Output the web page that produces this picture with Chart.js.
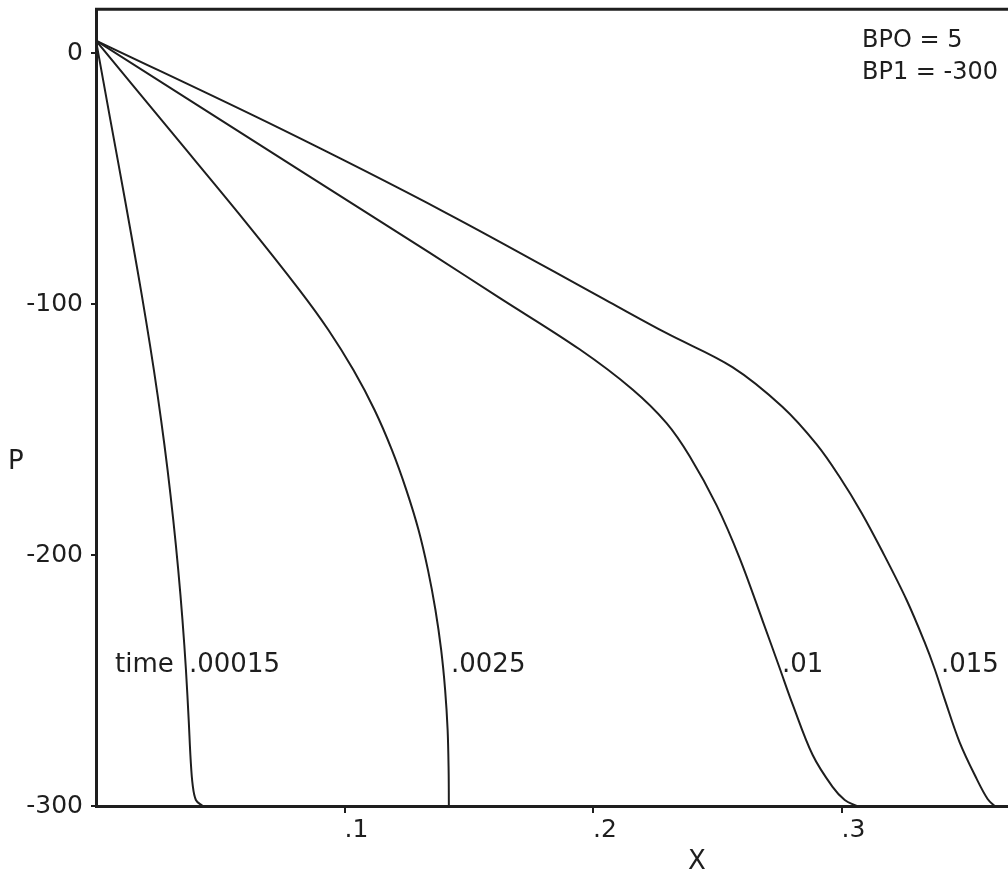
<!DOCTYPE html>
<html>
<head>
<meta charset="utf-8">
<script src="https://cdn.jsdelivr.net/npm/chart.js@4"></script>
<style>
  html, body { margin: 0; padding: 0; background: #fff; }
  canvas { display: block; }
</style>
</head>
<body>
<canvas id="chart" width="1008" height="876"></canvas>
<script>
// pressure profiles P(x) at four times, boundary values BPO = 5, BP1 = -300
const times = [".00015", ".0025", ".01", ".015"];

const x1 = [0, 0.0058, 0.0117, 0.0167, 0.0201, 0.0233, 0.0262, 0.0288, 0.0311, 0.0331, 0.0348, 0.0362, 0.0373, 0.0381, 0.0389, 0.0402, 0.0429];
const p1 = [5, -26.7, -58.6, -86.5, -106.4, -126.3, -146.2, -166.1, -186.1, -206, -225.9, -245.8, -265.7, -281.7, -291.6, -297.6, -300];

const x2 = [0, 0.03, 0.06, 0.0819, 0.0936, 0.1036, 0.1121, 0.1191, 0.1249, 0.1298, 0.1336, 0.1366, 0.1389, 0.1405, 0.1415, 0.1419, 0.142];
const p2 = [5, -31, -67, -94.4, -110.4, -126.3, -142.2, -158.2, -174.1, -190, -206, -221.9, -237.8, -253.8, -269.7, -285.7, -300];

const x3 = [0, 0.0819, 0.1342, 0.1624, 0.1946, 0.2159, 0.2296, 0.2389, 0.2497, 0.259, 0.2683, 0.2751, 0.2803, 0.2884, 0.2964, 0.3013, 0.3061];
const p3 = [5, -46.6, -79.5, -97.5, -118, -134, -147.4, -160.6, -180.1, -201.2, -226.3, -245, -259.4, -279.7, -292.4, -297.6, -300];

const x4 = [0, 0.0738, 0.141, 0.2066, 0.2296, 0.2561, 0.2763, 0.29, 0.2992, 0.3081, 0.3165, 0.3262, 0.3334, 0.3375, 0.3415, 0.3475, 0.3544, 0.3588, 0.3616];
const p4 = [5, -29.9, -63.7, -99.2, -111.6, -125.1, -141, -155.9, -168.8, -183.2, -198.7, -217.9, -234.6, -245.4, -257.4, -274.5, -289.2, -297.2, -300];

const yTicks = [0, -100, -200, -300];
const xTicks = [0.1, 0.2, 0.3];

const FONT = "'DejaVu Sans', sans-serif";
const INK = "#1e1e1e";

function toPoints(xs, ps) {
    return xs.map((x, i) => ({ x: x, y: ps[i] }));
}

const series = [[x1, p1], [x2, p2], [x3, p3], [x4, p4]];

// top frame line plus the free-standing texts
const annotations = {
    id: "annotations",
    afterDraw(chart) {
        const ctx = chart.ctx;
        const area = chart.chartArea;
        ctx.save();
        ctx.strokeStyle = INK;
        ctx.lineWidth = 3;
        ctx.beginPath();
        ctx.moveTo(area.left - 1, area.top);
        ctx.lineTo(area.right, area.top);
        ctx.stroke();

        ctx.fillStyle = INK;
        ctx.textBaseline = "middle";
        ctx.textAlign = "left";
        ctx.font = "26px " + FONT;
        ctx.fillText("time", 115, 665);
        const labelLeft = [189, 451, 782, 941];
        times.forEach((t, i) => ctx.fillText(t, labelLeft[i], 665));

        ctx.font = "24px " + FONT;
        ctx.fillText("BPO = 5", 862, 41);
        ctx.fillText("BP1 = -300", 862, 73);

        ctx.font = "26px " + FONT;
        ctx.fillText("P", 8, 462);
        ctx.textAlign = "center";
        ctx.fillText("X", 697, 862);
        ctx.restore();
    }
};

new Chart(document.getElementById("chart"), {
    type: "line",
    data: {
        datasets: series.map(([xs, ps], i) => ({
            label: times[i],
            data: toPoints(xs, ps),
            borderColor: INK,
            borderWidth: 2,
            pointRadius: 0,
            fill: false,
            tension: 0.35
        }))
    },
    options: {
        responsive: false,
        animation: false,
        layout: { padding: { top: 9, right: 0, left: 0, bottom: 0 } },
        plugins: {
            legend: { display: false },
            tooltip: { enabled: false }
        },
        scales: {
            x: {
                type: "linear",
                min: 0,
                max: 0.367,
                border: { color: INK, width: 3 },
                grid: { drawOnChartArea: false, color: INK, lineWidth: 2, tickLength: 7 },
                afterBuildTicks: (scale) => { scale.ticks = xTicks.map(v => ({ value: v })); },
                afterFit: (scale) => { scale.height = 70; },
                ticks: {
                    align: "start",
                    padding: 2,
                    color: INK,
                    font: { family: FONT, size: 25, lineHeight: 1.2 },
                    callback: (v) => v.toFixed(1).replace(/^0/, "")
                }
            },
            y: {
                min: -300,
                max: 17.5,
                border: { color: INK, width: 3 },
                grid: { drawOnChartArea: false, color: INK, lineWidth: 2, tickLength: 5 },
                afterBuildTicks: (scale) => { scale.ticks = yTicks.map(v => ({ value: v })); },
                afterFit: (scale) => { scale.width = 96; },
                ticks: {
                    padding: 8,
                    color: INK,
                    font: { family: FONT, size: 25, lineHeight: 0.1 },
                    callback: (v) => String(v)
                }
            }
        }
    },
    plugins: [annotations]
});
</script>
</body>
</html>
